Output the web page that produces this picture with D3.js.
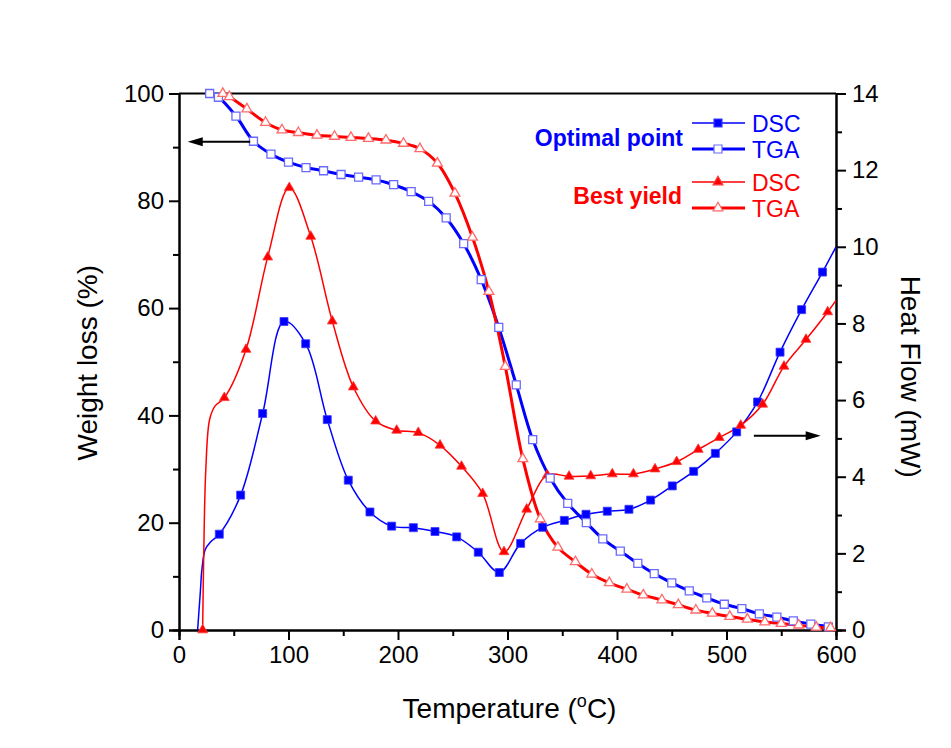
<!DOCTYPE html>
<html>
<head>
<meta charset="utf-8">
<script src="https://cdn.jsdelivr.net/npm/d3@7"></script>
<style>
  body { margin: 0; background: #fff; }
  svg { display: block; font-family: 'Liberation Sans', Arial, sans-serif; }
</style>
</head>
<body>
<script>
let width = 951
let height = 748

// Optimal point, TGA (weight %), open squares
let optTgaT = [28, 36, 52, 68, 84, 100, 116, 132, 148, 164, 180, 196, 212, 228, 244, 260, 276, 292, 308, 323, 339, 355, 372, 387, 403, 419, 434, 450, 466, 482, 498, 514, 530, 546, 561, 577, 593]
let optTga = [100, 99.3, 95.8, 91.1, 88.7, 87.2, 86.2, 85.6, 84.9, 84.4, 83.9, 83.0, 81.7, 79.9, 76.8, 72.0, 65.3, 56.4, 45.7, 35.5, 28.3, 23.6, 20.0, 17.0, 14.7, 12.4, 10.5, 8.8, 7.3, 6.0, 4.8, 4.0, 3.0, 2.4, 1.7, 1.1, 0.6]

// Best yield, TGA (weight %), open triangles
let bestTgaT = [40, 46, 62, 79, 94, 109, 126, 142, 157, 173, 189, 205, 220, 236, 252, 268, 283, 298, 314, 330, 346, 362, 377, 393, 409, 424, 441, 456, 472, 487, 503, 519, 535, 550, 566, 582, 595]
let bestTga = [100, 99.4, 97.1, 94.6, 93.2, 92.7, 92.2, 92.0, 91.8, 91.6, 91.3, 90.7, 89.7, 87.0, 81.4, 73.2, 63.1, 49.1, 31.9, 20.7, 15.4, 12.7, 10.4, 8.8, 7.6, 6.5, 5.6, 4.7, 3.7, 3.1, 2.5, 2.0, 1.5, 1.2, 0.9, 0.5, 0.4]

// Optimal point, DSC (mW), filled squares
let optDscT = [36.8, 56.3, 76.4, 95.9, 115.7, 135.4, 154.6, 174.4, 194.2, 214, 233.8, 253.6, 273.3, 292.5, 312, 332.1, 351.9, 371.7, 391.1, 410.9, 430.7, 450.5, 470, 489.8, 509.3, 528.4, 548.9, 568.6, 587.7]
let optDsc = [2.50, 3.52, 5.65, 8.05, 7.47, 5.49, 3.91, 3.08, 2.71, 2.67, 2.57, 2.43, 2.03, 1.50, 2.26, 2.68, 2.86, 3.02, 3.10, 3.15, 3.39, 3.76, 4.14, 4.61, 5.17, 5.95, 7.25, 8.36, 9.34]
// unmarked points of the same curve (start-up and end)
let optDscExtra = [[17, 0], [19.5, 1.0], [21, 1.6], [24, 2.1], [29, 2.3], [600, 10.0]]

// Best yield, DSC (mW), filled triangles
let bestDscT = [21.6, 41.4, 61.2, 81, 100.7, 120.3, 140, 159.2, 179.6, 198.8, 218.5, 238.4, 258, 277.3, 296.8, 317.5, 336.3, 356.2, 376, 395.7, 415, 434.7, 454.5, 474.2, 493.4, 513, 533, 552.5, 572.6, 592.4]
let bestDsc = [0, 6.06, 7.32, 9.73, 11.54, 10.27, 8.06, 6.34, 5.45, 5.21, 5.15, 4.82, 4.27, 3.56, 2.04, 3.15, 4.04, 4.01, 4.02, 4.07, 4.07, 4.20, 4.39, 4.71, 5.02, 5.34, 5.89, 6.88, 7.58, 8.30]
let bestDscExtra = [[22.6, 2.0], [24.5, 4.2], [28, 5.5], [33, 5.85], [600, 8.6]]

let xTicks = [0, 100, 200, 300, 400, 500, 600]
let xMinor = [50, 150, 250, 350, 450, 550]
let yLTicks = [0, 20, 40, 60, 80, 100]
let yLMinor = [10, 30, 50, 70, 90]
let yRTicks = [0, 2, 4, 6, 8, 10, 12, 14]
let yRMinor = [1, 3, 5, 7, 9, 11, 13]

let blue = '#0000ff'
let red = '#ff0000'

let svg = d3.select('body').append('svg')
  .attr('width', width)
  .attr('height', height)

let x = d3.scaleLinear().domain([0, 600]).range([179, 836])
let yL = d3.scaleLinear().domain([0, 100]).range([630, 93.5])
let yR = d3.scaleLinear().domain([0, 14]).range([630, 93.5])

function pairs(ts, vs) {
  return ts.map((t, i) => [t, vs[i]])
}

// axes
function styleAxis(g, size) {
  g.select('.domain').attr('stroke', '#000').attr('stroke-width', 2)
  g.selectAll('.tick line').attr('stroke', '#000').attr('stroke-width', 2)
  g.selectAll('.tick text').attr('font-size', size).attr('fill', '#000')
    .attr('font-family', "'Liberation Sans', Arial, sans-serif")
}

let gx = svg.append('g').attr('transform', 'translate(0,630)')
  .call(d3.axisBottom(x).tickValues(xTicks).tickSize(10).tickPadding(6).tickFormat(d3.format('d')))
styleAxis(gx, 24)
let gxm = svg.append('g').attr('transform', 'translate(0,630)')
  .call(d3.axisBottom(x).tickValues(xMinor).tickSize(6).tickFormat(''))
styleAxis(gxm, 24)

let gl = svg.append('g').attr('transform', 'translate(179,0)')
  .call(d3.axisLeft(yL).tickValues(yLTicks).tickSize(10).tickPadding(5))
styleAxis(gl, 24)
let glm = svg.append('g').attr('transform', 'translate(179,0)')
  .call(d3.axisLeft(yL).tickValues(yLMinor).tickSize(6).tickFormat(''))
styleAxis(glm, 24)

let gr = svg.append('g').attr('transform', 'translate(836,0)')
  .call(d3.axisRight(yR).tickValues(yRTicks).tickSize(10).tickPadding(6))
styleAxis(gr, 24)
let grm = svg.append('g').attr('transform', 'translate(836,0)')
  .call(d3.axisRight(yR).tickValues(yRMinor).tickSize(6).tickFormat(''))
styleAxis(grm, 24)

// top frame line
svg.append('line')
  .attr('x1', x(0)).attr('x2', x(600))
  .attr('y1', yL(100)).attr('y2', yL(100))
  .attr('stroke', '#000').attr('stroke-width', 2)

// axis titles
let xt = svg.append('text')
  .attr('x', (x(0) + x(600)) / 2 + 2).attr('y', 718)
  .attr('text-anchor', 'middle').attr('font-size', 28)
xt.append('tspan').text('Temperature (')
xt.append('tspan').attr('font-size', 18).attr('dy', -11).text('o')
xt.append('tspan').attr('dy', 11).text('C)')

svg.append('text')
  .attr('transform', 'translate(97,' + ((yL(0) + yL(100)) / 2 + 1) + ') rotate(-90)')
  .attr('text-anchor', 'middle').attr('font-size', 28)
  .text('Weight loss (%)')

svg.append('text')
  .attr('transform', 'translate(901,' + ((yL(0) + yL(100)) / 2 + 15) + ') rotate(90)')
  .attr('text-anchor', 'middle').attr('font-size', 28)
  .text('Heat Flow (mW)')

// lines
let lineL = d3.line().x(d => x(d[0])).y(d => yL(d[1])).curve(d3.curveCatmullRom.alpha(0.5))
let lineR = d3.line().x(d => x(d[0])).y(d => yR(d[1])).curve(d3.curveCatmullRom.alpha(0.5))

let optDscLine = pairs(optDscT, optDsc).concat(optDscExtra).sort((a, b) => a[0] - b[0])
let bestDscLine = pairs(bestDscT, bestDsc).concat(bestDscExtra).sort((a, b) => a[0] - b[0])

svg.append('path').datum(optDscLine).attr('d', lineR)
  .attr('fill', 'none').attr('stroke', blue).attr('stroke-width', 1.5)
svg.append('path').datum(bestDscLine).attr('d', lineR)
  .attr('fill', 'none').attr('stroke', red).attr('stroke-width', 1.5)
svg.append('path').datum(pairs(optTgaT, optTga)).attr('d', lineL)
  .attr('fill', 'none').attr('stroke', blue).attr('stroke-width', 3)
svg.append('path').datum(pairs(bestTgaT, bestTga)).attr('d', lineL)
  .attr('fill', 'none').attr('stroke', red).attr('stroke-width', 3)

let sq = d3.symbol().type(d3.symbolSquare).size(64)
let tri = d3.symbol().type(d3.symbolTriangle).size(42)

// markers
svg.append('g').selectAll('path').data(pairs(optDscT, optDsc)).enter().append('path')
  .attr('d', sq)
  .attr('transform', d => 'translate(' + x(d[0]) + ',' + yR(d[1]) + ')')
  .attr('fill', blue).attr('stroke', '#3a3aff').attr('stroke-width', 0.8)

svg.append('g').selectAll('path').data(pairs(bestDscT, bestDsc)).enter().append('path')
  .attr('d', tri)
  .attr('transform', d => 'translate(' + x(d[0]) + ',' + yR(d[1]) + ')')
  .attr('fill', red).attr('stroke', '#ff3a3a').attr('stroke-width', 0.8)

svg.append('g').selectAll('path').data(pairs(optTgaT, optTga)).enter().append('path')
  .attr('d', sq)
  .attr('transform', d => 'translate(' + x(d[0]) + ',' + yL(d[1]) + ')')
  .attr('fill', '#fff').attr('stroke', '#6a6aff').attr('stroke-width', 1.3)

svg.append('g').selectAll('path').data(pairs(bestTgaT, bestTga)).enter().append('path')
  .attr('d', tri)
  .attr('transform', d => 'translate(' + x(d[0]) + ',' + yL(d[1]) + ')')
  .attr('fill', '#fff').attr('stroke', '#ff6a6a').attr('stroke-width', 1.3)

// arrows
function arrow(x1, x2, y) {
  let dir = x2 > x1 ? 1 : -1
  svg.append('line')
    .attr('x1', x1).attr('x2', x2 - dir * 12).attr('y1', y).attr('y2', y)
    .attr('stroke', '#000').attr('stroke-width', 2)
  svg.append('path')
    .attr('d', 'M' + x2 + ',' + y + ' L' + (x2 - dir * 15) + ',' + (y - 4.5) + ' L' + (x2 - dir * 15) + ',' + (y + 4.5) + ' Z')
    .attr('fill', '#000')
}
arrow(x(65), x(8), yL(91))
arrow(x(525), x(586), yR(5.07))

// legend
let legend = [
  {name: 'DSC', color: blue, sym: sq, fill: blue, stroke: '#3a3aff', y: 123},
  {name: 'TGA', color: blue, sym: sq, fill: '#fff', stroke: '#6a6aff', y: 149, w: 3},
  {name: 'DSC', color: red, sym: tri, fill: red, stroke: '#ff3a3a', y: 182},
  {name: 'TGA', color: red, sym: tri, fill: '#fff', stroke: '#ff6a6a', y: 208, w: 3}
]
let lg = svg.append('g').selectAll('g').data(legend).enter().append('g')
lg.append('line')
  .attr('x1', 692).attr('x2', 745).attr('y1', d => d.y).attr('y2', d => d.y)
  .attr('stroke', d => d.color).attr('stroke-width', d => d.w || 1.5)
lg.append('path')
  .attr('d', d => d.sym())
  .attr('transform', d => 'translate(718,' + d.y + ')')
  .attr('fill', d => d.fill).attr('stroke', d => d.stroke).attr('stroke-width', 1.2)
lg.append('text')
  .attr('x', 752).attr('y', d => d.y + 9)
  .attr('font-size', 23).attr('fill', d => d.color)
  .text(d => d.name)

svg.append('text')
  .attr('x', 683).attr('y', 146)
  .attr('text-anchor', 'end').attr('font-size', 23).attr('font-weight', 'bold')
  .attr('fill', blue).text('Optimal point')
svg.append('text')
  .attr('x', 682).attr('y', 204)
  .attr('text-anchor', 'end').attr('font-size', 23).attr('font-weight', 'bold')
  .attr('fill', red).text('Best yield')
</script>
</body>
</html>
